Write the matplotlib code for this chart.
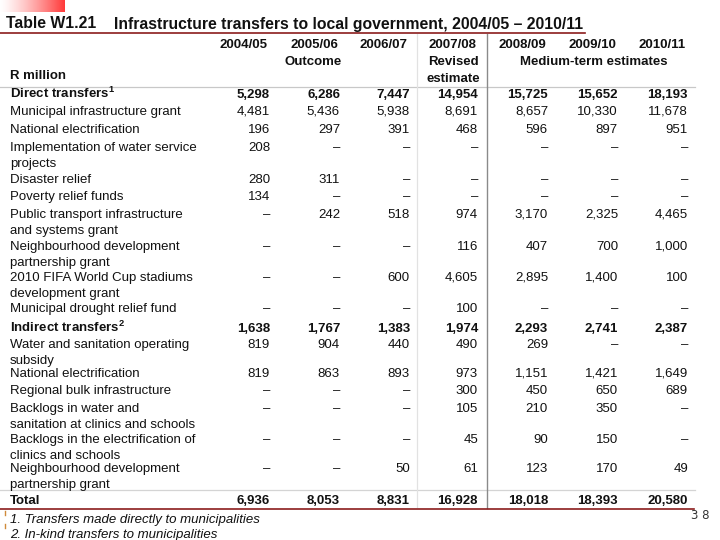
import matplotlib
matplotlib.use('Agg')
import matplotlib.pyplot as plt
import numpy as np
from matplotlib.patches import Rectangle

# ---------------- data ----------------
years = ['2004/05', '2005/06', '2006/07', '2007/08', '2008/09', '2009/10', '2010/11']

row_labels = [
    r'Direct transfers$^{\mathbf{1}}$',
    'Municipal infrastructure grant',
    'National electrification',
    'Implementation of water service\nprojects',
    'Disaster relief',
    'Poverty relief funds',
    'Public transport infrastructure\nand systems grant',
    'Neighbourhood development\npartnership grant',
    '2010 FIFA World Cup stadiums\ndevelopment grant',
    'Municipal drought relief fund',
    r'Indirect transfers$^{\mathbf{2}}$',
    'Water and sanitation operating\nsubsidy',
    'National electrification',
    'Regional bulk infrastructure',
    'Backlogs in water and\nsanitation at clinics and schools',
    'Backlogs in the electrification of\nclinics and schools',
    'Neighbourhood development\npartnership grant',
]
bold_rows = [0, 10]

v2004_05 = [5298, 4481, 196, 208, 280, 134, None, None, None, None, 1638, 819, 819, None, None, None, None]
v2005_06 = [6286, 5436, 297, None, 311, None, 242, None, None, None, 1767, 904, 863, None, None, None, None]
v2006_07 = [7447, 5938, 391, None, None, None, 518, None, 600, None, 1383, 440, 893, None, None, None, 50]
v2007_08 = [14954, 8691, 468, None, None, None, 974, 116, 4605, 100, 1974, 490, 973, 300, 105, 45, 61]
v2008_09 = [15725, 8657, 596, None, None, None, 3170, 407, 2895, None, 2293, 269, 1151, 450, 210, 90, 123]
v2009_10 = [15652, 10330, 897, None, None, None, 2325, 700, 1400, None, 2741, None, 1421, 650, 350, 150, 170]
v2010_11 = [18193, 11678, 951, None, None, None, 4465, 1000, 100, None, 2387, None, 1649, 689, None, None, 49]
totals = [6936, 8053, 8831, 16928, 18018, 18393, 20580]

columns = [v2004_05, v2005_06, v2006_07, v2007_08, v2008_09, v2009_10, v2010_11]

title_num = 'Table W1.21'
title_txt = 'Infrastructure transfers to local government, 2004/05 \u2013 2010/11'
footnotes = ['1. Transfers made directly to municipalities',
             '2. In-kind transfers to municipalities']

# ---------------- layout ----------------
FONT = 'Liberation Sans'
plt.rcParams['font.family'] = [FONT, 'DejaVu Sans']
plt.rcParams['mathtext.fontset'] = 'custom'
plt.rcParams['mathtext.rm'] = FONT
plt.rcParams['mathtext.bf'] = FONT + ':bold'
plt.rcParams['mathtext.it'] = FONT + ':italic'

FS = 9.5
TXT = '#111111'
DARKRED = '#8b1c1c'
BL = 4.6  # baseline offset from visual centre (px)

col_right = [270, 340, 410, 478, 548, 618, 688]
row_y = [93, 110, 128, 146, 178, 195, 213, 245, 276, 307, 327, 343, 372, 389, 407, 438, 467]
line_gap = 16
total_y = 499

fig = plt.figure(figsize=(7.2, 5.4), dpi=100)
ax = fig.add_axes([0, 0, 1, 1])
ax.set_xlim(0, 720)
ax.set_ylim(540, 0)
ax.axis('off')


def put(x, y, s, **kw):
    kw.setdefault('fontsize', FS)
    kw.setdefault('color', TXT)
    kw.setdefault('ha', 'left')
    return ax.text(x, y + BL, s, va='baseline', **kw)


# red gradient patch
grad = np.linspace(0, 1, 200) ** 1.3
rgb = np.ones((1, 200, 3))
rgb[0, :, 1] = 1 - grad * 0.78
rgb[0, :, 2] = 1 - grad * 0.78
ax.imshow(rgb, extent=[0, 65, 12, 0], aspect='auto', interpolation='bilinear', zorder=1)

# title
ax.text(6, 28.5, title_num, fontsize=11.3, fontweight='bold', color=TXT, va='baseline', ha='left')
ax.text(114, 28.5, title_txt, fontsize=11.3, fontweight='bold', color=TXT, va='baseline', ha='left')
ax.plot([0, 585], [32.5, 32.5], color=DARKRED, lw=1.2, zorder=3)

# header
for x, yr in zip(col_right, years):
    put(x - 26, 43, yr, fontweight='bold', ha='center')
put(313, 60, 'Outcome', fontweight='bold', ha='center')
put(col_right[3] - 25, 60, 'Revised', fontweight='bold', ha='center')
put(col_right[3] - 25, 77, 'estimate', fontweight='bold', ha='center')
put(594, 60, 'Medium-term estimates', fontweight='bold', ha='center')
put(10, 74, 'R million', fontweight='bold')

# grid lines
ax.plot([0, 695], [86.5, 86.5], color='#c8c8c8', lw=0.9)
ax.plot([0, 695], [490, 490], color='#d4d4d4', lw=0.9)
ax.plot([417, 417], [34, 507], color='#e2e2e2', lw=0.9)
ax.plot([487, 487], [34, 508], color='#8a8a8a', lw=1.0)
ax.plot([0, 694], [508.5, 508.5], color=DARKRED, lw=1.2, zorder=3)


def fmt(v):
    return '\u2013' if v is None else f'{v:,}'


# body rows
for i, label in enumerate(row_labels):
    y = row_y[i]
    weight = 'bold' if i in bold_rows else 'normal'
    for k, part in enumerate(label.split('\n')):
        t = put(10, y + k * line_gap, part, fontweight=weight)
        if part == 'subsidy':
            clip = Rectangle((0, 340), 400, y + k * line_gap + BL + 0.5 - 340,
                             transform=ax.transData)
            t.set_clip_path(clip)
    for c, col in enumerate(columns):
        put(col_right[c], y, fmt(col[i]), fontweight=weight, ha='right')

# total
put(10, total_y, 'Total', fontweight='bold')
for c, v in enumerate(totals):
    put(col_right[c], total_y, fmt(v), fontweight='bold', ha='right')

# footnotes
put(10, 518, footnotes[0], style='italic')
put(10, 533, footnotes[1], style='italic')

# small marks at left
ax.plot([5, 5], [511, 515], color='#d08a3a', lw=1.0)
ax.plot([5, 5], [524, 528], color='#d08a3a', lw=1.0)

# page number
put(691, 514, '3 8', fontsize=8.5, color='#333333', family='DejaVu Sans')

fig.savefig('out.png', dpi=100)
